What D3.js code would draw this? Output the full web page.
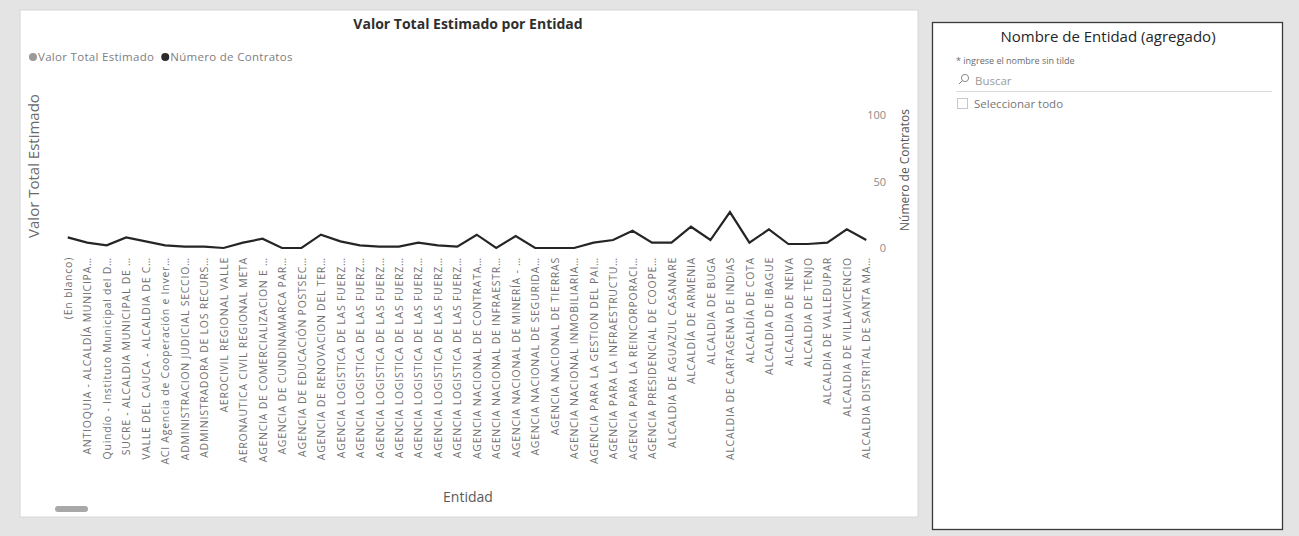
<!DOCTYPE html>
<html>
<head>
<meta charset="utf-8">
<script src="https://cdn.jsdelivr.net/npm/d3@7"></script>
<style>
  html, body { margin: 0; padding: 0; background: #e4e4e4; }
  svg { display: block; font-family: "Open Sans", "Noto Sans", sans-serif; }
</style>
</head>
<body>
<svg id="chart" width="1299" height="536"></svg>
<script>
// ---- DATA ----
const entidades = [
  "(En blanco)",
  "ANTIOQUIA - ALCALDÍA MUNICIPA…",
  "Quindío - Instituto Municipal del D…",
  "SUCRE - ALCALDIA MUNICIPAL DE …",
  "VALLE DEL CAUCA - ALCALDIA DE C…",
  "ACI Agencia de Cooperación e Inver…",
  "ADMINISTRACION JUDICIAL SECCIO…",
  "ADMINISTRADORA DE LOS RECURS…",
  "AEROCIVIL REGIONAL VALLE",
  "AERONAUTICA CIVIL REGIONAL META",
  "AGENCIA DE COMERCIALIZACION E …",
  "AGENCIA DE CUNDINAMARCA PAR…",
  "AGENCIA DE EDUCACIÓN POSTSEC…",
  "AGENCIA DE RENOVACION DEL TER…",
  "AGENCIA LOGISTICA DE LAS FUERZ…",
  "AGENCIA LOGISTICA DE LAS FUERZ…",
  "AGENCIA LOGISTICA DE LAS FUERZ…",
  "AGENCIA LOGISTICA DE LAS FUERZ…",
  "AGENCIA LOGISTICA DE LAS FUERZ…",
  "AGENCIA LOGISTICA DE LAS FUERZ…",
  "AGENCIA LOGISTICA DE LAS FUERZ…",
  "AGENCIA NACIONAL DE CONTRATA…",
  "AGENCIA NACIONAL DE INFRAESTR…",
  "AGENCIA NACIONAL DE MINERÍA - …",
  "AGENCIA NACIONAL DE SEGURIDA…",
  "AGENCIA NACIONAL DE TIERRAS",
  "AGENCIA NACIONAL INMOBILIARIA…",
  "AGENCIA PARA LA GESTION DEL PAI…",
  "AGENCIA PARA LA INFRAESTRUCTU…",
  "AGENCIA PARA LA REINCORPORACI…",
  "AGENCIA PRESIDENCIAL DE COOPE…",
  "ALCALDIA DE AGUAZUL CASANARE",
  "ALCALDÍA DE ARMENIA",
  "ALCALDIA DE BUGA",
  "ALCALDIA DE CARTAGENA DE INDIAS",
  "ALCALDÍA DE COTA",
  "ALCALDIA DE IBAGUE",
  "ALCALDIA DE NEIVA",
  "ALCALDIA DE TENJO",
  "ALCALDIA DE VALLEDUPAR",
  "ALCALDIA DE VILLAVICENCIO",
  "ALCALDIA DISTRITAL DE SANTA MA…"
];

// Número de Contratos (right axis)
const numeroContratos = [
  8, 4, 2, 8, 5, 2, 1, 1, 0, 4,
  7, 0, 0, 10, 5, 2, 1, 1, 4, 2,
  1, 10, 0, 9, 0, 0, 0, 4, 6, 13,
  4, 4, 16, 6, 27, 4, 14, 3, 3, 4,
  14, 6
];

// Valor Total Estimado (left axis): no marks visible in the picture
const valorTotalEstimado = [];

const rightTicks = [0, 50, 100];

const titulo = "Valor Total Estimado por Entidad";
const leyenda = [
  { name: "Valor Total Estimado", color: "#9a9a9a" },
  { name: "Número de Contratos", color: "#2b2b2b" }
];

// ---- DRAW ----
const svg = d3.select("#chart");

// panels
svg.append("rect").attr("x", 0).attr("y", 0).attr("width", 1299).attr("height", 536).attr("fill", "#e4e4e4");
svg.append("rect").attr("x", 20).attr("y", 10).attr("width", 898).attr("height", 507)
  .attr("fill", "#ffffff").attr("stroke", "#d6d6d6").attr("stroke-width", 1);

// title
svg.append("text").attr("x", 468).attr("y", 29).attr("text-anchor", "middle")
  .attr("font-size", 14).attr("font-weight", 700).attr("fill", "#2f2f2f").text(titulo);

// legend
let lx = 29;
const lg = svg.append("g");
leyenda.forEach(d => {
  lg.append("circle").attr("cx", lx + 4).attr("cy", 57).attr("r", 4).attr("fill", d.color);
  const t = lg.append("text").attr("x", lx + 9).attr("y", 61).attr("font-size", 11.5)
    .attr("letter-spacing", 0.3).attr("fill", "#808080").text(d.name);
  lx += 9 + t.node().getComputedTextLength() + 7;
});

// scales
const idx = d3.range(entidades.length);
const x = d3.scalePoint().domain(idx).range([58, 876]).padding(0.5);
const yR = d3.scaleLinear().domain([0, 100]).range([248, 115]);

// x axis (labels only)
const xAxis = d3.axisBottom(x).tickSize(0).tickPadding(0).tickFormat(i => entidades[i]);
const gx = svg.append("g").attr("transform", "translate(0,257)").call(xAxis);
gx.select(".domain").remove();
gx.selectAll("text")
  .attr("transform", "rotate(-90)")
  .attr("text-anchor", "end")
  .attr("x", 0).attr("y", 0).attr("dx", 0).attr("dy", "0.35em")
  .attr("font-size", 10.5)
  .attr("letter-spacing", 0.75)
  .attr("font-family", "\"Open Sans\", sans-serif")
  .attr("fill", "#707070");

// right axis
const gy = svg.append("g").attr("transform", "translate(886,0)")
  .call(d3.axisRight(yR).tickValues(rightTicks).tickSize(0).tickPadding(0));
gy.select(".domain").remove();
gy.selectAll("text").attr("text-anchor", "end").attr("font-size", 11)
  .attr("font-family", "\"Open Sans\", sans-serif").attr("fill", "#8a8a8a");

// axis titles
svg.append("text").attr("transform", "translate(39,166) rotate(-90)").attr("text-anchor", "middle")
  .attr("font-size", 15).attr("fill", "#6a6a6a").text("Valor Total Estimado");
svg.append("text").attr("transform", "translate(909,170) rotate(-90)").attr("text-anchor", "middle")
  .attr("font-size", 12).attr("fill", "#555").text("Número de Contratos");
svg.append("text").attr("x", 468).attr("y", 502).attr("text-anchor", "middle")
  .attr("font-size", 14).attr("fill", "#5a5a5a").text("Entidad");

// line
const line = d3.line().x((d, i) => x(i)).y(d => yR(d));
svg.append("path").datum(numeroContratos).attr("d", line)
  .attr("fill", "none").attr("stroke", "#252525").attr("stroke-width", 2.2)
  .attr("stroke-linejoin", "miter");

// scrollbar
svg.append("rect").attr("x", 55).attr("y", 506).attr("width", 33).attr("height", 6).attr("rx", 3)
  .attr("fill", "#a8a8a8");

// ---- slicer panel ----
svg.append("rect").attr("x", 932.5).attr("y", 22.5).attr("width", 350).attr("height", 507)
  .attr("fill", "#ffffff").attr("stroke", "#3a3a3a").attr("stroke-width", 1.3);
svg.append("text").attr("x", 1108).attr("y", 42).attr("text-anchor", "middle")
  .attr("font-size", 15).attr("fill", "#262626").text("Nombre de Entidad (agregado)");
svg.append("text").attr("x", 956).attr("y", 64).attr("font-size", 9)
  .attr("fill", "#6a6a6a").text("* ingrese el nombre sin tilde");
// search icon
svg.append("circle").attr("cx", 965).attr("cy", 78).attr("r", 3.6).attr("fill", "none")
  .attr("stroke", "#8a8a8a").attr("stroke-width", 1);
svg.append("line").attr("x1", 962.4).attr("y1", 80.6).attr("x2", 959).attr("y2", 84)
  .attr("stroke", "#8a8a8a").attr("stroke-width", 1);
svg.append("text").attr("x", 975).attr("y", 85).attr("font-size", 11.5)
  .attr("fill", "#9a9a9a").text("Buscar");
svg.append("line").attr("x1", 956).attr("y1", 91.5).attr("x2", 1272).attr("y2", 91.5)
  .attr("stroke", "#dcdcdc").attr("stroke-width", 1);
svg.append("rect").attr("x", 957.5).attr("y", 98.5).attr("width", 10).attr("height", 10)
  .attr("fill", "none").attr("stroke", "#c8c8c8").attr("stroke-width", 1);
svg.append("text").attr("x", 974).attr("y", 108).attr("font-size", 11.5)
  .attr("fill", "#777").text("Seleccionar todo");
</script>
</body>
</html>
